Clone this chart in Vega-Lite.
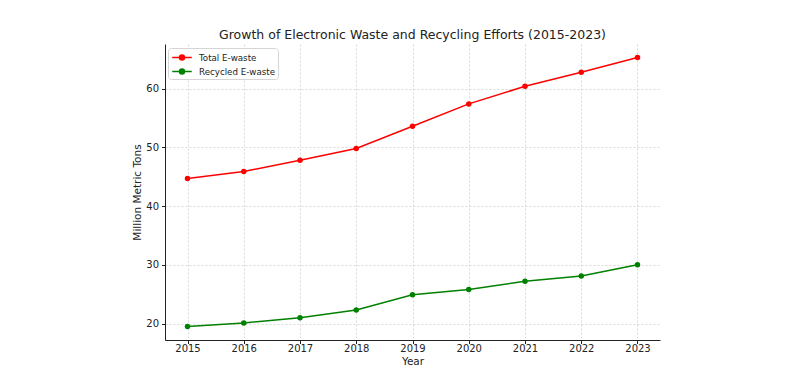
{
  "$schema": "https://vega.github.io/schema/vega-lite/v6.json",
  "width": 495,
  "height": 296,
  "autosize": {"type": "none"},
  "padding": {"left": 165, "top": 44, "right": 140, "bottom": 42},
  "background": "white",
  "title": {"text": "Growth of Electronic Waste and Recycling Efforts (2015-2023)", "font": "DejaVu Sans", "fontSize": 12.5, "fontWeight": "normal", "color": "#222", "offset": 3},
  "config": {
    "view": {"stroke": null},
    "axis": {"labelFont": "DejaVu Sans", "titleFont": "DejaVu Sans", "labelFontSize": 10, "titleFontSize": 10.5, "titleFontWeight": "normal", "labelColor": "#222", "titleColor": "#222", "domainColor": "#222", "tickColor": "#222", "tickSize": 3.5, "gridColor": "#cfcfcf", "gridDash": [2, 2], "gridWidth": 0.8}
  },
  "data": {"values": [
    {"Year": 2015, "Series": "Total E-waste", "Value": 44.7},
    {"Year": 2016, "Series": "Total E-waste", "Value": 45.9},
    {"Year": 2017, "Series": "Total E-waste", "Value": 47.8},
    {"Year": 2018, "Series": "Total E-waste", "Value": 49.8},
    {"Year": 2019, "Series": "Total E-waste", "Value": 53.6},
    {"Year": 2020, "Series": "Total E-waste", "Value": 57.4},
    {"Year": 2021, "Series": "Total E-waste", "Value": 60.4},
    {"Year": 2022, "Series": "Total E-waste", "Value": 62.8},
    {"Year": 2023, "Series": "Total E-waste", "Value": 65.3},
    {"Year": 2015, "Series": "Recycled E-waste", "Value": 19.5},
    {"Year": 2016, "Series": "Recycled E-waste", "Value": 20.1},
    {"Year": 2017, "Series": "Recycled E-waste", "Value": 21.0},
    {"Year": 2018, "Series": "Recycled E-waste", "Value": 22.3},
    {"Year": 2019, "Series": "Recycled E-waste", "Value": 24.9},
    {"Year": 2020, "Series": "Recycled E-waste", "Value": 25.8},
    {"Year": 2021, "Series": "Recycled E-waste", "Value": 27.2},
    {"Year": 2022, "Series": "Recycled E-waste", "Value": 28.1},
    {"Year": 2023, "Series": "Recycled E-waste", "Value": 30.0}
  ]},
  "encoding": {
    "x": {"field": "Year", "type": "quantitative", "scale": {"domain": [2014.6, 2023.4], "nice": false, "zero": false},
      "axis": {"values": [2015, 2016, 2017, 2018, 2019, 2020, 2021, 2022, 2023], "format": "d", "title": "Year", "titlePadding": 3, "labelPadding": 0}},
    "y": {"field": "Value", "type": "quantitative", "scale": {"domain": [17.2, 67.6], "nice": false, "zero": false},
      "axis": {"values": [20, 30, 40, 50, 60], "title": "Million Metric Tons", "titlePadding": 3, "labelPadding": 3}},
    "color": {"field": "Series", "type": "nominal", "sort": ["Total E-waste", "Recycled E-waste"],
      "scale": {"domain": ["Total E-waste", "Recycled E-waste"], "range": ["#ff0000", "#008000"]},
      "legend": {"title": null, "orient": "none", "legendX": 3, "legendY": 4, "labelFont": "DejaVu Sans", "labelFontSize": 8.7, "labelColor": "#222",
        "symbolType": "M-1.5,0L1.5,0M-0.38,0a0.38,0.38 0 1,0 0.76,0a0.38,0.38 0 1,0 -0.76,0Z", "symbolSize": 169, "symbolStrokeWidth": 1.5, "symbolFillColor": null,
        "fillColor": "white", "strokeColor": "#d5d5d5", "cornerRadius": 3, "padding": 2, "rowPadding": 1, "symbolOffset": 4.5, "labelOffset": 9.5}}
  },
  "layer": [
    {"mark": {"type": "line", "strokeWidth": 1.5}},
    {"mark": {"type": "point", "filled": true, "size": 30, "opacity": 1}}
  ]
}
